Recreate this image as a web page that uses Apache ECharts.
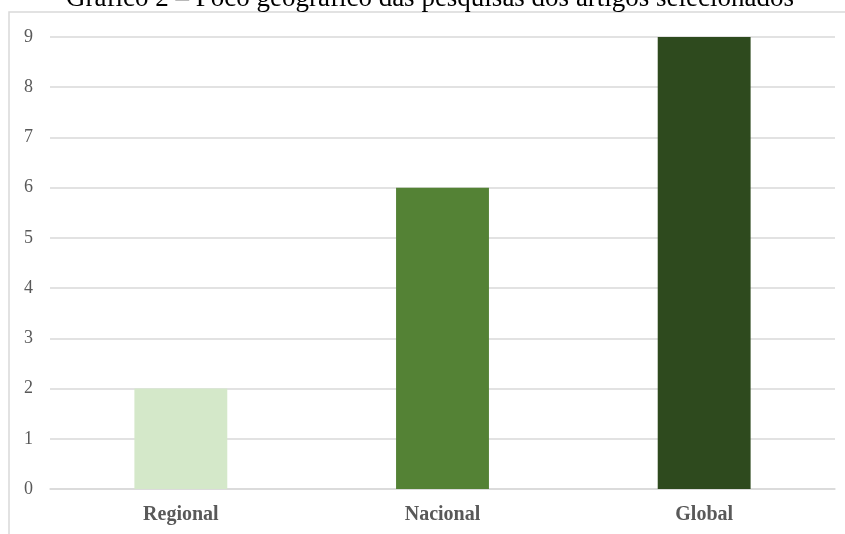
<!DOCTYPE html>
<html>
<head>
<meta charset="utf-8">
<script src="https://cdn.jsdelivr.net/npm/echarts@6/dist/echarts.min.js"></script>
<style>
  html, body { margin: 0; padding: 0; background: #fff; }
  #chart { width: 845px; height: 534px; }
</style>
</head>
<body>
<div id="chart"></div>
<script>
const categories = ['Regional', 'Nacional', 'Global']
const values = [2, 6, 9]
const barColors = ['#d4e8c9', '#548235', '#2e4a1e']
const yTicks = [0, 1, 2, 3, 4, 5, 6, 7, 8, 9]

const chart = echarts.init(document.getElementById('chart'))

const option = {
  backgroundColor: '#fff',
  animation: false,
  title: {
    text: 'Gráfico 2 – Foco geográfico das pesquisas dos artigos selecionados',
    left: 66,
    top: -15,
    padding: 0,
    textStyle: {
      fontFamily: 'Liberation Serif',
      fontSize: 27,
      fontWeight: 'normal',
      color: '#000'
    }
  },
  graphic: [
    {
      type: 'rect',
      shape: { x: 9, y: 12, width: 900, height: 600 },
      style: { fill: 'none', stroke: '#d9d9d9', lineWidth: 1.5 },
      silent: true
    }
  ],
  grid: { left: 50, right: 10, top: 37, bottom: 45, containLabel: false },
  xAxis: {
    type: 'category',
    data: categories,
    axisLine: { lineStyle: { color: '#d9d9d9', width: 1.5 } },
    axisTick: { show: false },
    axisLabel: {
      margin: 16,
      fontFamily: 'Liberation Serif',
      fontSize: 20,
      fontWeight: 'bold',
      color: '#595959'
    }
  },
  yAxis: {
    type: 'value',
    min: yTicks[0],
    max: yTicks[yTicks.length - 1],
    interval: 1,
    axisLine: { show: false },
    axisTick: { show: false },
    splitLine: { lineStyle: { color: '#d9d9d9', width: 1.5 } },
    axisLabel: {
      margin: 17,
      fontFamily: 'Liberation Serif',
      fontSize: 18,
      color: '#595959'
    }
  },
  series: [
    {
      type: 'bar',
      barWidth: '35.5%',
      data: values.map((v, i) => ({ value: v, itemStyle: { color: barColors[i] } }))
    }
  ]
}

chart.setOption(option)
</script>
</body>
</html>
